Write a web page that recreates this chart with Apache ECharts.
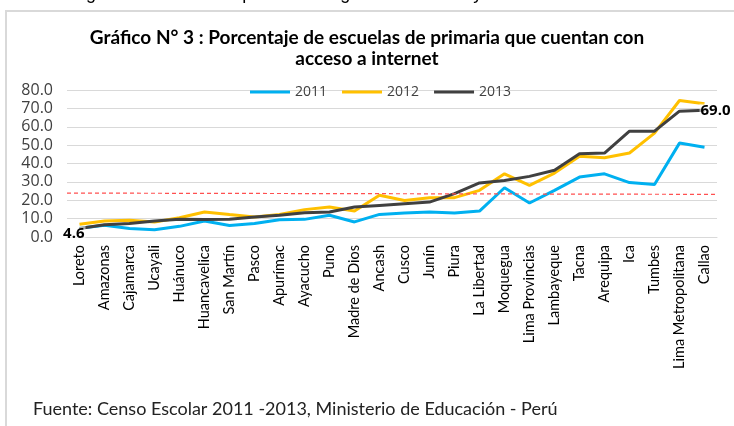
<!DOCTYPE html>
<html>
<head>
<meta charset="utf-8">
<script src="https://cdn.jsdelivr.net/npm/echarts@6/dist/echarts.min.js"></script>
<style>
html,body{margin:0;padding:0;background:#fff;}
#c{width:734px;height:426px;}
</style>
</head>
<body>
<div id="c"></div>
<script>
const categories = ["Loreto","Amazonas","Cajamarca","Ucayali","Huánuco","Huancavelica","San Martín","Pasco","Apurímac","Ayacucho","Puno","Madre de Dios","Ancash","Cusco","Junín","Piura","La Libertad","Moquegua","Lima Provincias","Lambayeque","Tacna","Arequipa","Ica","Tumbes","Lima Metropolitana","Callao"];
const s2011 = [4.8,6.4,4.6,4.0,5.8,8.7,6.3,7.3,9.4,9.6,11.8,8.2,12.3,13.1,13.6,13.1,14.1,26.8,18.5,25.4,32.6,34.4,29.6,28.6,51.1,48.9];
const s2012 = [6.9,8.7,9.1,8.2,10.5,13.6,12.2,10.9,12.3,14.9,16.3,14.1,22.7,19.9,21.4,21.4,25.4,34.4,28.1,34.8,43.9,43.1,45.7,56.5,74.3,72.5];
const s2013 = [4.6,6.7,7.3,8.7,9.6,9.5,9.6,10.9,11.8,13.2,13.6,16.3,17.2,18.1,19.0,23.6,29.4,30.8,33.0,36.3,45.3,45.7,57.6,57.6,68.5,69.0];
const refLine = [[0,23.9],[1,23.2]];
const yTicks = {min:0, max:80, interval:10};

const chart = echarts.init(document.getElementById('c'));
const font = 'Lato, "Liberation Sans", sans-serif';
const ofont = '"Open Sans", "Liberation Sans", sans-serif';
chart.setOption({
  animation:false,
  backgroundColor:'#fff',
  title:{
    text:'Gráfico N° 3 : Porcentaje de escuelas de primaria que cuentan con\nacceso a internet',
    left:'center', top:22,
    textStyle:{fontFamily:font, fontSize:19, fontWeight:'bold', color:'#000', lineHeight:21}
  },
  legend:{
    data:[{name:'2011',icon:'rect'},{name:'2012',icon:'rect'},{name:'2013',icon:'rect'}],
    top:80, left:245, itemWidth:40, itemHeight:3, itemGap:15,
    textStyle:{fontFamily:ofont, fontSize:14, color:'#404040'}
  },
  grid:{left:67, right:17, top:90, bottom:189, containLabel:false},
  xAxis:[{
    type:'category', data:categories, boundaryGap:true,
    axisLine:{show:true, lineStyle:{color:'#d9d9d9'}},
    axisTick:{show:false},
    axisLabel:{rotate:90, interval:0, fontFamily:font, fontSize:14.5, color:'#000', margin:8}
  },{
    type:'value', min:0, max:1, show:false
  }],
  yAxis:{
    type:'value', min:yTicks.min, max:yTicks.max, interval:yTicks.interval,
    axisLine:{show:false}, axisTick:{show:false},
    splitLine:{lineStyle:{color:'#d9d9d9', width:1}},
    axisLabel:{fontFamily:ofont, fontSize:16, color:'#404040', margin:14, formatter:v=>v.toFixed(1)}
  },
  series:[
    {name:'2011', type:'line', data:s2011, symbol:'circle', symbolSize:0, lineStyle:{color:'#00B0F0', width:3}, itemStyle:{color:'#00B0F0'}},
    {name:'2012', type:'line', data:s2012, symbol:'circle', symbolSize:0, lineStyle:{color:'#FFC000', width:3}, itemStyle:{color:'#FFC000'}},
    {name:'2013', type:'line', data:s2013.map((v,i)=>{
        if(i===0) return {value:v, label:{show:true, position:'left', distance:0, offset:[6,5]}};
        if(i===s2013.length-1) return {value:v, label:{show:true, position:'right', distance:0, offset:[-5,1]}};
        return v;
      }), symbol:'circle', symbolSize:0, lineStyle:{color:'#404040', width:3}, itemStyle:{color:'#404040'},
      label:{fontFamily:ofont, fontSize:15, fontWeight:'bold', color:'#000', backgroundColor:'rgba(255,255,255,0.55)', padding:[0,1], formatter:p=>p.value.toFixed(1)}},
    {name:'ref', type:'line', xAxisIndex:1, data:refLine, symbol:'none', silent:true,
      lineStyle:{color:'#ff5050', width:1.2, type:[4,3]}}
  ],
  graphic:[
    {type:'rect', shape:{x:6, y:11, width:740, height:430}, style:{fill:'none', stroke:'#d9d9d9', lineWidth:2}},
    {type:'text', left:17, top:-15, style:{text:'en las regiones de la costa que en las regiones de sierra y selva.', font:'18px "Liberation Sans", Arial, sans-serif', fill:'#000'}},
    {type:'text', left:33, top:400, style:{text:'Fuente: Censo Escolar 2011 -2013, Ministerio de Educación - Perú', font:'18px '+font, fill:'#222'}}
  ]
});
</script>
</body>
</html>
